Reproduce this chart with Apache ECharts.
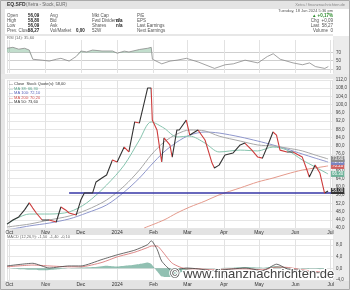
<!DOCTYPE html>
<html>
<head>
<meta charset="utf-8">
<script src="https://cdn.jsdelivr.net/npm/echarts@6/dist/echarts.min.js"></script>
<style>
  html, body { margin: 0; padding: 0; background: #fff; }
  #chart { width: 350px; height: 290px; }
</style>
</head>
<body>
<div id="chart"></div>
<script>
// price (close)
var priceDates = ['2023-09-29','2023-10-04','2023-10-09','2023-10-14','2023-10-18','2023-10-21','2023-10-24','2023-10-29','2023-11-04','2023-11-10','2023-11-14','2023-11-18','2023-11-21','2023-11-27','2023-12-01','2023-12-04','2023-12-06','2023-12-11','2023-12-14','2023-12-15','2023-12-19','2023-12-23','2023-12-28','2024-01-01','2024-01-07','2024-01-11','2024-01-16','2024-01-20','2024-01-24','2024-01-27','2024-01-30','2024-01-31','2024-02-04','2024-02-08','2024-02-10','2024-02-15','2024-02-17','2024-02-21','2024-02-23','2024-02-29','2024-03-03','2024-03-10','2024-03-16','2024-03-22','2024-03-24','2024-03-28','2024-04-02','2024-04-09','2024-04-15','2024-04-19','2024-04-25','2024-04-30','2024-05-04','2024-05-08','2024-05-13','2024-05-16','2024-05-19','2024-05-25','2024-05-30','2024-06-07','2024-06-11','2024-06-13','2024-06-18','2024-06-22','2024-06-26','2024-06-29'];
var priceValues = [41.9,43.9,45.4,48.8,52.2,49.7,47.3,43.9,43.9,42.9,50.2,48.8,47.3,46.3,53.6,57.0,57.0,57.0,62.4,63.3,64.3,65.8,73.1,72.1,79.4,77.0,91.6,91.1,100.8,108.1,108.1,92.5,87.7,72.1,83.8,80.4,74.5,87.7,87.7,92.5,85.2,87.7,82.8,71.6,69.2,70.6,75.5,76.5,80.4,81.3,77.9,74.5,74.0,79.4,86.7,85.2,77.9,77.0,77.0,74.5,68.2,64.8,70.6,66.8,57.0,58.0];

// moving averages
var maDates = ['2023-09-29','2023-10-18','2023-11-04','2023-11-21','2023-12-06','2023-12-23','2024-01-07','2024-01-20','2024-01-30','2024-02-10','2024-02-21','2024-03-03','2024-03-16','2024-03-28','2024-04-15','2024-04-30','2024-05-13','2024-05-25','2024-06-07','2024-06-18','2024-06-29'];
var ma38 = [41.9,46.8,46.8,47.8,52.2,60.9,70.6,82.8,91.6,88.6,84.3,84.7,81.3,77.0,77.9,77.5,79.4,77.9,73.1,69.7,66.3];
var ma50 = [40.5,41.9,43.9,45.8,48.8,53.6,60.4,68.2,75.5,81.8,85.7,87.7,87.2,84.7,82.3,80.4,79.9,78.9,77.5,75.5,73.6];
var ma100 = [39.0,41.0,42.4,44.4,47.3,51.2,57.5,64.3,70.6,77.0,81.8,85.2,86.7,86.2,84.3,82.3,80.4,78.4,76.0,74.0,72.1];
var ma200Dates = ['2024-01-24','2024-02-10','2024-02-21','2024-03-03','2024-03-16','2024-03-28','2024-04-15','2024-04-30','2024-05-13','2024-05-25','2024-06-07','2024-06-18','2024-06-29'];
var ma200 = [40.0,43.9,47.3,50.2,53.1,56.1,59.5,62.4,64.3,66.3,68.2,69.2,70.2];

// support line
var supportLevel = 57.0;
var supportFrom = '2023-11-21';
var supportTo = '2024-07-03';

// RSI(14)
var rsiDates = ['2023-09-29','2023-10-04','2023-10-09','2023-10-14','2023-10-18','2023-10-21','2023-10-29','2023-11-04','2023-11-10','2023-11-14','2023-11-21','2023-11-27','2023-12-01','2023-12-06','2023-12-11','2023-12-19','2023-12-28','2024-01-01','2024-01-07','2024-01-11','2024-01-20','2024-01-27','2024-01-30','2024-01-31','2024-02-08','2024-02-15','2024-02-21','2024-02-29','2024-03-10','2024-03-22','2024-03-24','2024-04-02','2024-04-09','2024-04-19','2024-04-30','2024-05-08','2024-05-13','2024-05-19','2024-05-30','2024-06-07','2024-06-13','2024-06-18','2024-06-26','2024-06-29'];
var rsiValues = [80,82.2,77.8,80,75.6,53.3,51.1,48.9,53.3,55.6,48.9,60,73.3,71.1,75.6,73.3,73.3,68,73,71,77,80,82.2,53.3,42.2,48.9,51.1,55.6,46.7,33.3,31.1,40,42.2,51.1,44.4,60,66.7,53.3,44.4,40,44.4,35.6,31.1,35.6];

// MACD(12,26,9)
var macdDates = ['2023-09-29','2023-10-21','2023-11-04','2023-11-21','2023-12-01','2023-12-19','2024-01-01','2024-01-16','2024-01-27','2024-01-30','2024-02-04','2024-02-08','2024-02-17','2024-02-29','2024-03-10','2024-03-22','2024-04-09','2024-04-19','2024-05-04','2024-05-16','2024-05-25','2024-06-07','2024-06-18','2024-06-29'];
var macdValues = [0.8,1.7,0.1,0.8,0.8,3.0,4.6,6.2,8.1,9.4,6.5,2.4,-0.8,0.1,-0.2,-0.8,-0.2,0.1,-0.8,1.4,-0.2,-0.8,-1.5,-1.5];
var signalValues = [0.5,1.1,0.8,0.5,0.5,2.0,3.9,5.5,7.1,7.6,7.6,6.0,1.7,-0.2,-0.2,-0.5,-0.2,-0.2,-0.5,0.4,0.3,-0.5,-1.1,-1.4];
var histDates = ['2023-09-29','2023-10-09','2023-10-21','2023-10-29','2023-11-10','2023-11-21','2023-12-11','2023-12-23','2024-01-01','2024-01-11','2024-01-20','2024-01-27','2024-01-30','2024-02-04','2024-02-08','2024-02-15','2024-02-21','2024-02-29','2024-03-10','2024-04-09','2024-04-19','2024-05-04','2024-05-16','2024-05-25','2024-06-07','2024-06-22','2024-06-29'];
var histValues = [0.1,-0.3,-0.5,-0.7,-0.4,0,0.4,0.9,0.6,1.0,1.5,2.0,1.5,-1.0,-2.8,-3.0,-2.0,-0.6,0,0.2,0.4,0.2,0.8,0.3,-0.2,-0.3,-0.1];

var FONT = 'Liberation Sans, Arial, sans-serif';
var xMin = '2023-09-29', xMax = '2024-07-03';

function pairs(d, v) {
  return d.map(function (x, i) { return [x, v[i]]; });
}

// red where the close falls
var redPieces = [];
for (var i = 0; i < priceValues.length - 1; i++) {
  if (priceValues[i + 1] < priceValues[i]) {
    redPieces.push({ gte: +echarts.time.parse(priceDates[i]), lte: +echarts.time.parse(priceDates[i + 1]), color: '#cc3b3b' });
  }
}

function timeAxis(grid, labels) {
  return {
    type: 'time', gridIndex: grid, min: xMin, max: xMax, splitNumber: 9,
    axisLine: { show: false }, axisTick: { show: false },
    splitLine: { show: true, lineStyle: { color: '#e2e2e2', width: 1 } },
    axisLabel: {
      show: labels, fontSize: 5, color: '#333', margin: 2, fontFamily: FONT,
      formatter: { year: '{yyyy}', month: '{MMM}', day: '{d}' }
    }
  };
}

function txt(x, y, s, fill, size, bold, align) {
  return {
    type: 'text', x: x, y: y, silent: true, z: 50,
    style: {
      text: s, fill: fill || '#555', textAlign: align || 'left', textVerticalAlign: 'middle',
      font: (bold ? 'bold ' : '') + (size || 4.5) + 'px ' + FONT
    }
  };
}

function rect(x, y, w, h, fill) {
  return { type: 'rect', z: -10, silent: true, shape: { x: x, y: y, width: w, height: h }, style: { fill: fill } };
}

function endLab(bg) {
  return {
    show: true, fontSize: 4.5, color: '#fff', backgroundColor: bg, padding: [1, 1, 0, 1],
    distance: 3, fontFamily: FONT,
    formatter: function (p) { return p.value[1].toFixed(2); }
  };
}

var graphics = [
  rect(0, 0, 350, 290, '#ffffff'),
  rect(0, 0, 350, 9, '#e4e4e4'),
  rect(0, 0, 5, 290, '#e6e6e6'),
  rect(333, 36, 17, 254, '#ececec'),
  rect(0, 74, 350, 5, '#e9e9e9'),
  rect(7, 229, 326, 6, '#e3e3e3'),
  rect(0, 281, 350, 9, '#e3e3e3'),
  { type: 'rect', z: 40, silent: true, shape: { x: 0.5, y: 0.5, width: 349, height: 289 }, style: { fill: 'none', stroke: '#aaa', lineWidth: 1 } },
  { type: 'line', z: 40, silent: true, shape: { x1: 5, y1: 35, x2: 333, y2: 35 }, style: { stroke: '#cfcfcf', lineWidth: 1 } },
  txt(7, 5, 'EQ.SFD', '#333', 5, true),
  txt(26, 5, '(Xetra - Stock, EUR)', '#666', 4.5),
  txt(345, 5, 'Xetra / finanznachrichten.de', '#888', 4, false, 'right'),
  txt(333, 11, 'Tuesday, 18 Jun 2024 5:36 pm', '#555', 4, false, 'right'),
  // info table
  txt(7, 16, 'Open', '#555'), txt(28, 16, '56,09', '#222', 4.5, true),
  txt(7, 21, 'High', '#555'), txt(28, 21, '58,80', '#222', 4.5, true),
  txt(7, 26, 'Low', '#555'), txt(28, 26, '56,09', '#222', 4.5, true),
  txt(7, 31, 'Prev. Close', '#555'), txt(28, 31, '58,27', '#222', 4.5, true),
  txt(50, 16, 'Avg', '#555'), txt(50, 21, 'Bid', '#555'), txt(50, 26, 'Ask', '#555'),
  txt(50, 31, 'Vol/Market', '#555'), txt(76, 31, '0,00', '#222', 4.5, true),
  txt(92, 16, 'Mkt Cap', '#555'), txt(92, 21, 'Fwd Dividend', '#555'), txt(116, 21, 'n/a', '#222', 4.5, true),
  txt(92, 26, 'Shares', '#555'), txt(116, 26, 'n/a', '#222', 4.5, true), txt(92, 31, '52W', '#555'),
  txt(137, 16, 'P/E', '#555'), txt(137, 21, 'EPS', '#555'),
  txt(137, 26, 'Last Earnings', '#555'), txt(137, 31, 'Next Earnings', '#555'),
  txt(333, 16, '\u25B2 +0,17%', '#2a8a2a', 4.5, true, 'right'),
  txt(333, 21, 'Chg  +0,09', '#555', 4.5, false, 'right'),
  txt(333, 26, 'Last  58,27', '#555', 4.5, false, 'right'),
  txt(333, 31, 'Volume  0', '#555', 4.5, false, 'right'),
  // panel legends
  txt(7, 38, 'RSI (14): 35,60', '#666', 4),
  txt(9, 84, '\u2014 Close  Stock Quote(s): 58,00', '#333', 4),
  txt(9, 88.5, '\u2014 MA 38: 66,30', '#5aa58c', 4),
  txt(9, 93, '\u2014 MA 100: 72,10', '#5560b8', 4),
  txt(9, 97.5, '\u2014 MA 200: 70,20', '#d05050', 4),
  txt(9, 102, '\u2014 MA 50: 73,60', '#333', 4),
  txt(7, 237, 'MACD (12,26,9): -1,50  -1,40  -0,10', '#666', 4),
  // watermark
  {
    type: 'text', x: 170, y: 274, z: 100, silent: true,
    style: { text: '\u00A9 www.finanznachrichten.de', fill: '#444', stroke: '#fff', lineWidth: 2,
      font: '13px ' + FONT, textVerticalAlign: 'middle' }
  }
];

var chart = echarts.init(document.getElementById('chart'));
chart.setOption({
  animation: false,
  textStyle: { fontFamily: FONT },
  graphic: graphics,
  grid: [
    { left: 7, right: 17, top: 40, height: 33 },
    { left: 7, right: 17, top: 80, height: 148 },
    { left: 7, right: 17, top: 239, height: 41 }
  ],
  xAxis: [timeAxis(0, false), timeAxis(1, true), timeAxis(2, true)],
  yAxis: [
    {
      type: 'value', gridIndex: 0, position: 'right', min: 20, max: 100, interval: 10,
      axisLine: { show: false }, axisTick: { show: false },
      splitLine: { lineStyle: { color: ['transparent', '#cfcfcf', 'transparent', '#cfcfcf', 'transparent', '#cfcfcf', 'transparent', 'transparent', 'transparent'] } },
      axisLabel: { fontSize: 4.5, color: '#444', margin: 3, formatter: function (v) { return (v === 30 || v === 50 || v === 70) ? v : ''; } }
    },
    {
      type: 'value', gridIndex: 1, position: 'right', min: 40, max: 112, interval: 4,
      axisLine: { show: false }, axisTick: { show: false },
      splitLine: { lineStyle: { color: '#e6e6e6' } },
      axisLabel: { fontSize: 4.5, color: '#444', margin: 3, formatter: function (v) { return v.toFixed(1).replace('.', ','); } }
    },
    {
      type: 'value', gridIndex: 2, position: 'right', min: -4, max: 10, interval: 4,
      axisLine: { show: false }, axisTick: { show: false },
      splitLine: { lineStyle: { color: '#e6e6e6' } },
      axisLabel: { fontSize: 4.5, color: '#444', margin: 3, showMaxLabel: false, formatter: function (v) { return v.toFixed(1).replace('.', ','); } }
    }
  ],
  visualMap: {
    show: false, type: 'piecewise', seriesIndex: 8, dimension: 0,
    pieces: redPieces, outOfRange: { color: '#333' }
  },
  series: [
    // 0-2 RSI
    {
      type: 'line', xAxisIndex: 0, yAxisIndex: 0, stack: 'rsi', symbol: 'none', silent: true,
      lineStyle: { width: 0 }, data: pairs(rsiDates, rsiValues.map(function (v) { return Math.min(v, 70); }))
    },
    {
      type: 'line', xAxisIndex: 0, yAxisIndex: 0, stack: 'rsi', symbol: 'none', silent: true,
      lineStyle: { width: 0 }, areaStyle: { color: 'rgba(95,170,125,0.55)' },
      data: pairs(rsiDates, rsiValues.map(function (v) { return Math.max(v - 70, 0); }))
    },
    {
      type: 'line', xAxisIndex: 0, yAxisIndex: 0, symbol: 'none',
      lineStyle: { color: '#8a8a8a', width: 0.8 }, data: pairs(rsiDates, rsiValues)
    },
    // 3-8 main
    {
      type: 'line', xAxisIndex: 1, yAxisIndex: 1, symbol: 'none', smooth: 0.3,
      lineStyle: { color: '#e49a8c', width: 1 }, endLabel: endLab('#d06060'),
      data: pairs(ma200Dates, ma200)
    },
    {
      type: 'line', xAxisIndex: 1, yAxisIndex: 1, symbol: 'none', smooth: 0.3,
      lineStyle: { color: '#8f97cc', width: 1 }, endLabel: endLab('#7a84c0'),
      data: pairs(maDates, ma100)
    },
    {
      type: 'line', xAxisIndex: 1, yAxisIndex: 1, symbol: 'none', smooth: 0.3,
      lineStyle: { color: '#a8a8a8', width: 1 }, endLabel: endLab('#8c8c8c'),
      data: pairs(maDates, ma50)
    },
    {
      type: 'line', xAxisIndex: 1, yAxisIndex: 1, symbol: 'none', smooth: 0.3,
      lineStyle: { color: '#86c4ae', width: 1 }, endLabel: endLab('#6fb39a'),
      data: pairs(maDates, ma38)
    },
    {
      type: 'line', xAxisIndex: 1, yAxisIndex: 1, symbol: 'none',
      lineStyle: { color: '#3636a6', width: 1.5 },
      data: [[supportFrom, supportLevel], [supportTo, supportLevel]]
    },
    {
      type: 'line', xAxisIndex: 1, yAxisIndex: 1, symbol: 'none',
      lineStyle: { width: 1.1 }, endLabel: endLab('#333'),
      data: pairs(priceDates, priceValues)
    },
    // 9-11 MACD
    {
      type: 'line', xAxisIndex: 2, yAxisIndex: 2, symbol: 'none', smooth: 0.2,
      lineStyle: { width: 0 }, areaStyle: { color: 'rgba(70,150,125,0.85)' },
      data: pairs(histDates, histValues)
    },
    {
      type: 'line', xAxisIndex: 2, yAxisIndex: 2, symbol: 'none', smooth: 0.2,
      lineStyle: { color: '#d46a6a', width: 0.8 }, data: pairs(macdDates, signalValues)
    },
    {
      type: 'line', xAxisIndex: 2, yAxisIndex: 2, symbol: 'none', smooth: 0.2,
      lineStyle: { color: '#444', width: 0.8 }, data: pairs(macdDates, macdValues)
    }
  ]
});
</script>
</body>
</html>
